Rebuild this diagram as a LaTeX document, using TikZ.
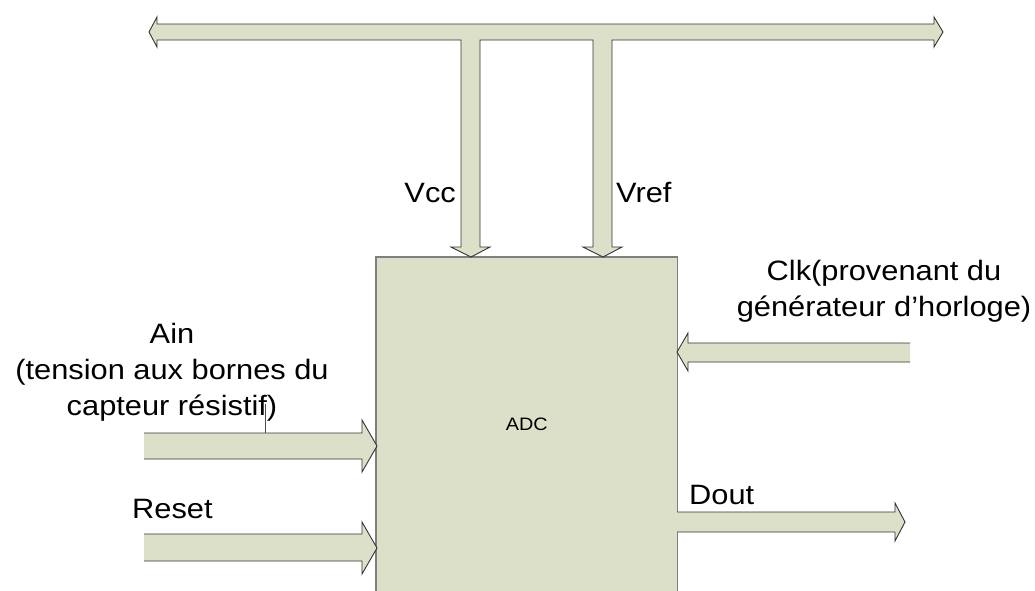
\documentclass[tikz,border=0pt]{standalone}
\usepackage{fontspec}
\setmainfont{Liberation Sans}[FakeStretch=1.1]
\definecolor{olivefill}{HTML}{DDE0C9}
\definecolor{edgegray}{HTML}{7F7F7F}
\usetikzlibrary{positioning}

\begin{document}
\begin{tikzpicture}[x=1pt, y=-1pt,
  every node/.style={inner sep=0pt},
  lbl/.style={font=\fontsize{28}{36}\selectfont, align=center},
  blockarr/.style={fill=olivefill, draw=black!80, line width=0.9pt, line join=miter},
  adcbox/.style={rectangle, fill=olivefill, minimum width=301pt, minimum height=335pt,
                 font=\fontsize{18}{22}\selectfont}
]
  \useasboundingbox (0,0) rectangle (1035,590);

  % converter block (runs off the bottom edge)
  \node[adcbox, anchor=north west] (adc) at (376,257) {ADC};
  \draw[edgegray, line width=1.1pt] (adc.south west) -- (adc.north west) -- (adc.north east) -- (adc.south east);

  % supply bus with Vcc / Vref taps
  \path[blockarr] (149,32) -- (157,17) -- (157,24) -- (934,24) -- (934,17) -- (943,32)
    -- (934,47) -- (934,40) -- (612,40) -- (612,247) -- (622,247) -- (603,257)
    -- (583,247) -- (593,247) -- (593,40) -- (480,40) -- (480,247) -- (490,247)
    -- (471,257) -- (451,247) -- (461,247) -- (461,40) -- (157,40) -- (157,47) -- cycle;

  % inputs
  \path[blockarr] (144,433) -- (362,433) -- (362,420) -- (377,446) -- (362,472) -- (362,459) -- (144,459);
  \path[blockarr] (144,534) -- (362,534) -- (362,522) -- (377,548) -- (362,574) -- (362,561) -- (144,561);
  \path[blockarr] (910,343) -- (688,343) -- (688,333) -- (677,352) -- (688,371) -- (688,362) -- (910,362);

  % output
  \path[blockarr] (677,512) -- (895,512) -- (895,503) -- (905,522) -- (895,541) -- (895,532) -- (677,532);
  \draw[black!70, line width=0.6pt] (265,404) -- (265,433);

  \node[lbl, anchor=base east] (vcc)  at (456,202) {Vcc};
  \node[lbl, anchor=base west] (vref) at (616,202) {Vref};
  \node[lbl] (clk) at (884,291) {Clk(provenant du\\générateur d’horloge)};
  \node[lbl] (ain) at (172,372) {Ain\\(tension aux bornes du\\capteur résistif)};
  \node[lbl, anchor=base west] (reset) at (132,518) {Reset};
  \node[lbl, anchor=base west] (dout)  at (689,504) {Dout};
\end{tikzpicture}
\end{document}
